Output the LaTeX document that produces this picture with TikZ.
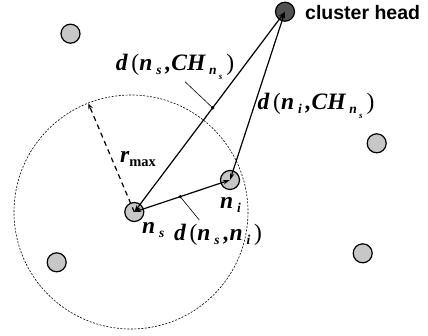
\documentclass[tikz,border=0pt]{standalone}
\usepackage{fontspec}
\setmainfont{Liberation Serif}
\newfontfamily\hfont{Liberation Sans}
\usetikzlibrary{arrows.meta}
\newcommand\bi[1]{{\bfseries\itshape #1}}
\newcommand\lo[2][13.5]{\,\raisebox{-4.5pt}{\fontsize{#1}{#1}\selectfont\bfseries\itshape #2}}
\begin{document}
\begin{tikzpicture}[x=1pt,y=-1pt,
  sensor/.style={circle,draw,line width=1.2pt,fill=black!22,minimum size=19pt,inner sep=0pt},
  chead/.style={sensor,fill=black!68},
  link/.style={line width=1.2pt,{Stealth[length=7pt,width=4.5pt]}-{Stealth[length=7pt,width=4.5pt]}},
  rangeline/.style={line width=1.2pt,dash pattern=on 5pt off 4pt,-{Stealth[length=6pt,width=4.5pt,inset=2pt]}},
  rangecircle/.style={line width=0.6pt,dash pattern=on 2pt off 1.5pt},
  leader/.style={line width=0.6pt},
  lbl/.style={font=\fontsize{23.5}{23.5}\selectfont,inner sep=0pt,anchor=base}]
\useasboundingbox (0,0) rectangle (428,335);
% transmission range
\draw[rangecircle] (131,212) circle[radius=117];
% nodes
\node[sensor] (a) at (70.5,33.7) {};
\node[sensor] (b) at (376.7,143.3) {};
\node[sensor] (c) at (362.7,253.3) {};
\node[sensor] (e) at (56.7,262.3) {};
\node[sensor] (ns) at (134.3,212) {};
\node[sensor] (ni) at (230,180) {};
\node[chead] (ch) at (285,11.7) {};
\node[font=\hfont\bfseries\fontsize{19.5}{19.5}\selectfont,anchor=base west,inner sep=0pt] (chl) at (305,19.5) {cluster head};
% radius
\coordinate (rt) at (88.3,103.3);
\draw[rangeline] (ns.center) -- (rt);
\node[lbl,anchor=base west] (rl) at (120,162) {\bi{r}\raisebox{-4pt}{\fontsize{14.5}{14.5}\selectfont\bfseries max}};
% links
\draw[link] (ns.center) -- coordinate[pos=0.52] (m1) (ch.center);
\draw[link] (ni.center) -- (ch.center);
\draw[link] (ns.center) -- coordinate[pos=0.48] (m2) (ni.center);
\fill (m1) circle[radius=1.8];
\fill (m2) circle[radius=1.8];
\coordinate (l1) at (185,81.7);
\coordinate (l2) at (199.3,220);
\draw[leader] (m1) -- (l1);
\draw[leader] (m2) -- (l2);
% labels
\node[lbl] (d1) at (175,70) {\bi{d}\,(\bi{n}\lo{s}\,\bi{,}\bi{CH}\lo{n\lo[9]{s}}\,)};
\node[lbl] (d2) at (316,109) {\bi{d}\,(\bi{n}\lo{i}\,\bi{,}\bi{CH}\lo{n\lo[9]{s}}\,)};
\node[lbl] (d3) at (218,240) {\bi{d}\,(\bi{n}\lo{s}\,\bi{,}\bi{n}\lo{i}\,)};
\node[lbl,anchor=base west] (nsl) at (142,233) {\bi{n}\lo{s}};
\node[lbl,anchor=base west] (nil) at (220,208) {\bi{n}\lo{i}};
\end{tikzpicture}
\end{document}
